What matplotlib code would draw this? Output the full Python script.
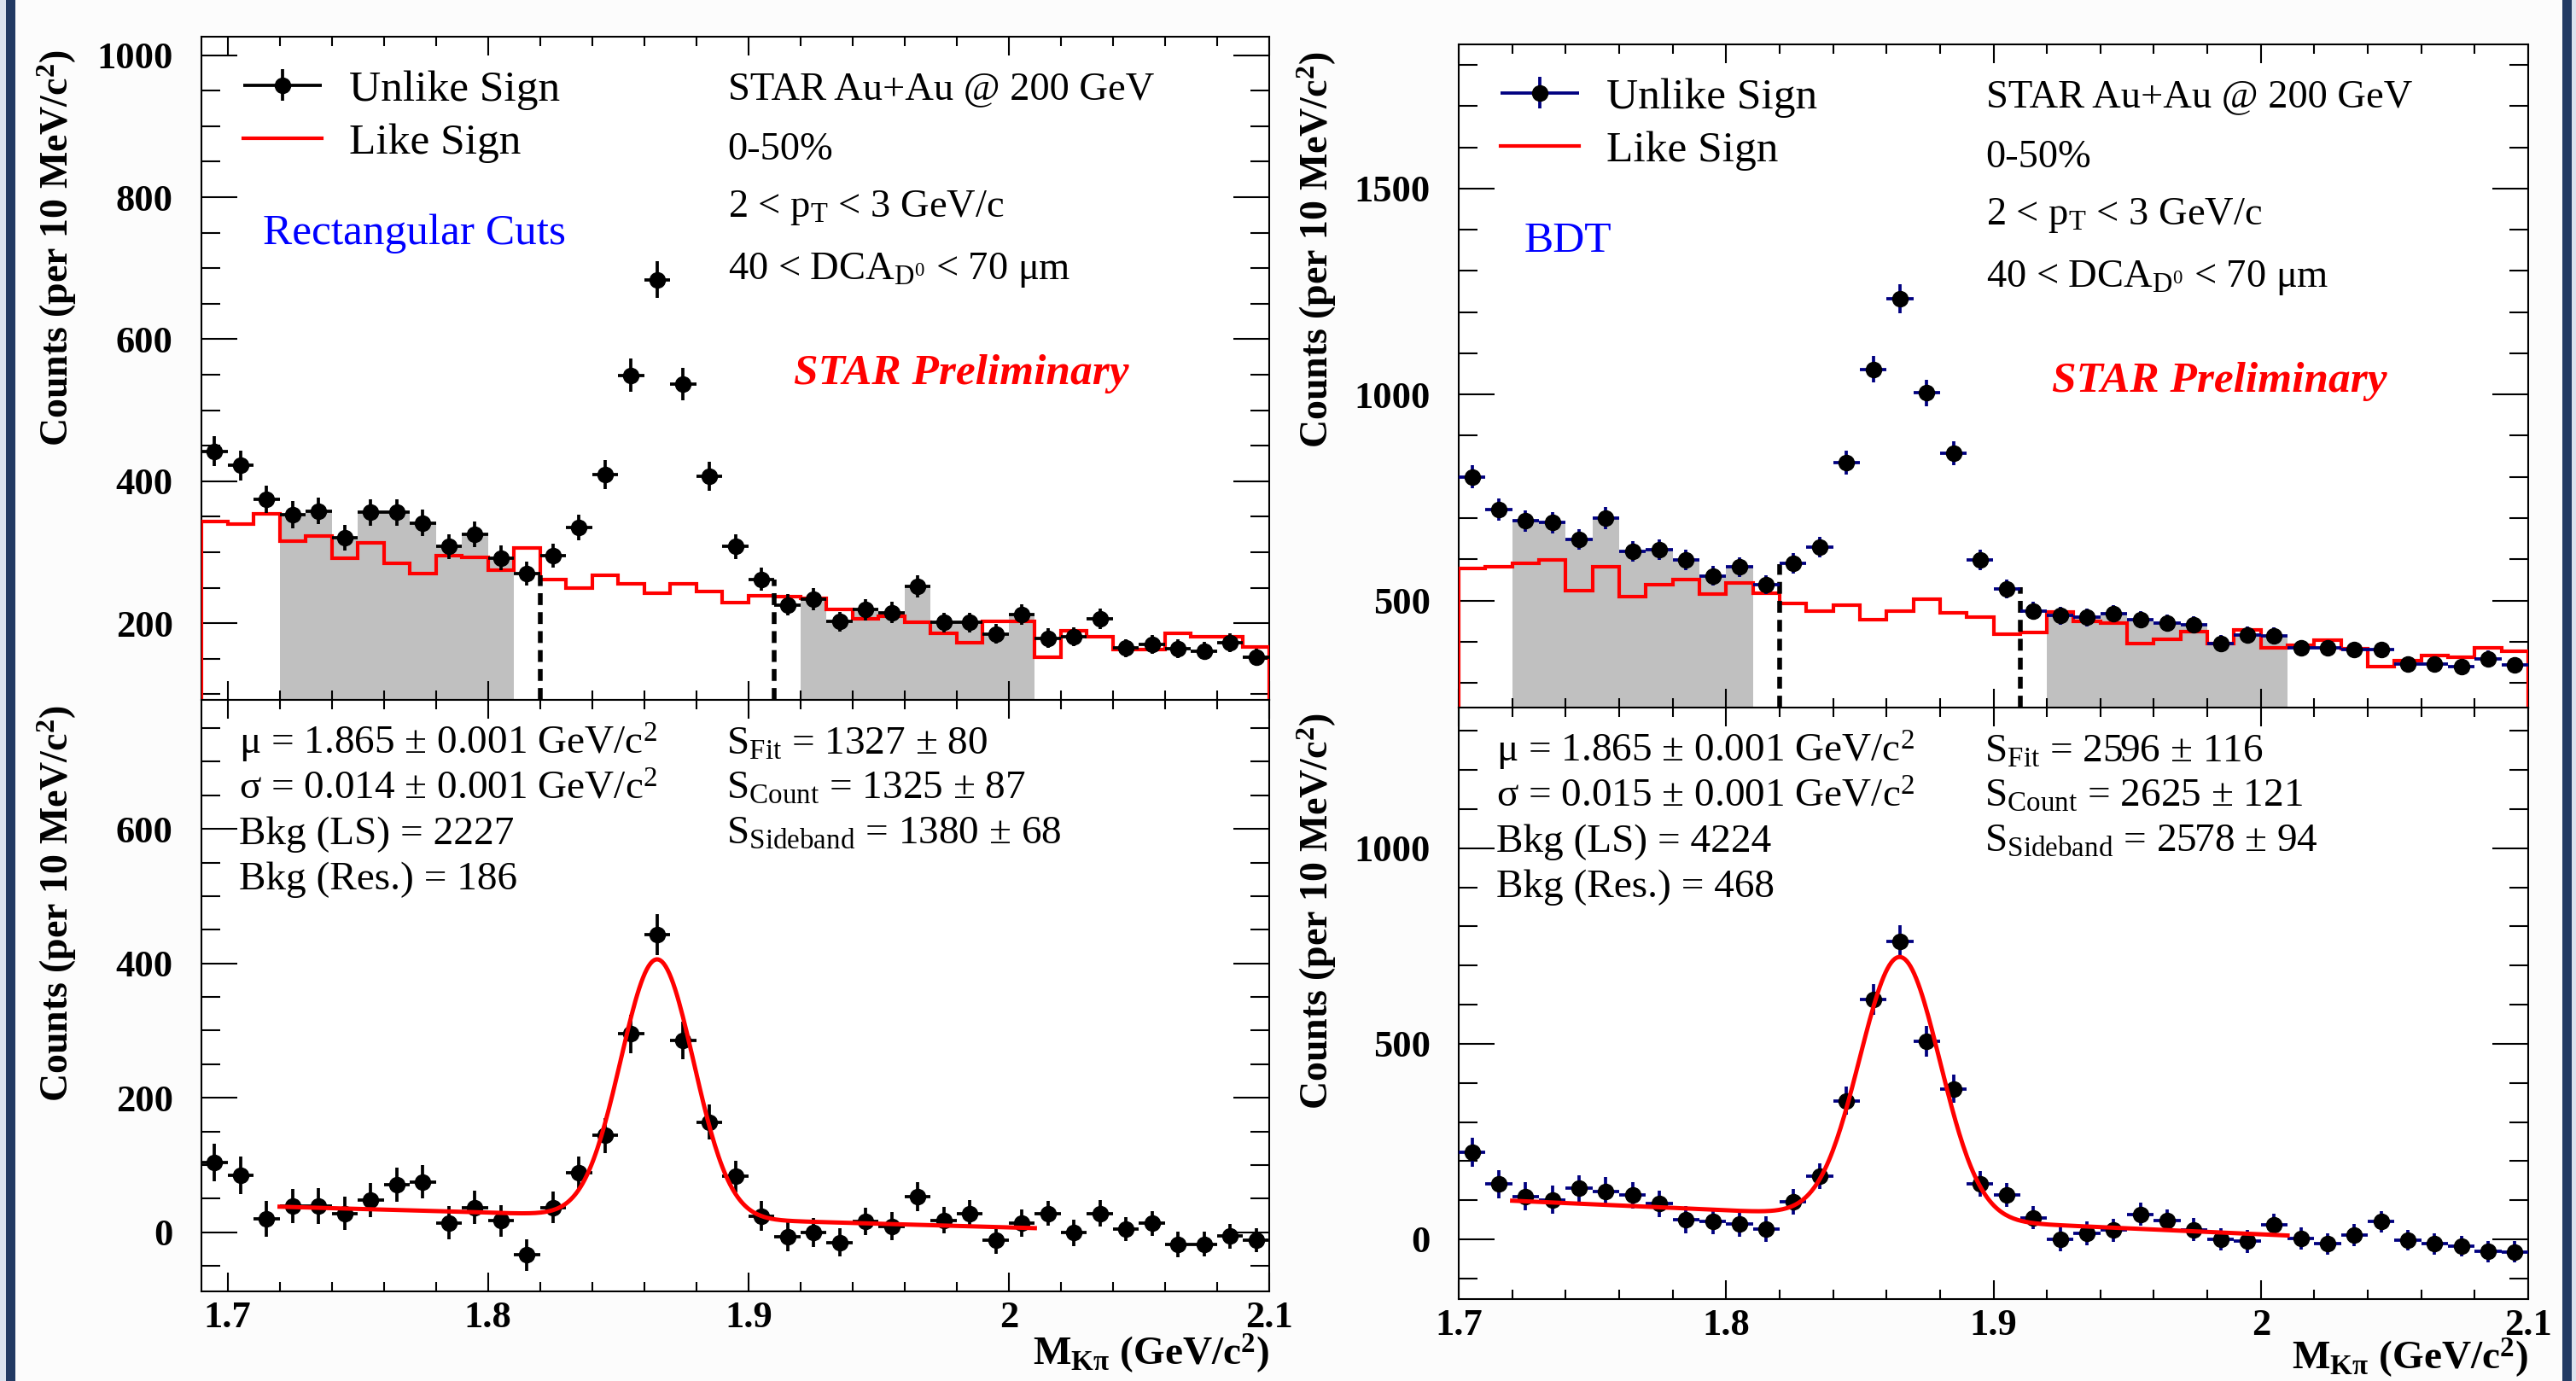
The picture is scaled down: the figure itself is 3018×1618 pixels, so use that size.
import numpy as np
import matplotlib
matplotlib.use("Agg")
import matplotlib.pyplot as plt
from matplotlib import ticker
from matplotlib.container import ErrorbarContainer
from matplotlib.legend_handler import HandlerErrorbar
from matplotlib.patches import Rectangle

plt.rcParams['font.family'] = 'Liberation Serif'
plt.rcParams['mathtext.fontset'] = 'custom'
plt.rcParams['mathtext.rm'] = 'Liberation Serif'
plt.rcParams['mathtext.it'] = 'Liberation Serif:italic'
plt.rcParams['mathtext.bf'] = 'Liberation Serif:bold'

BIN = 0.01
RECT_EDGES = np.round(np.arange(1.69, 2.1001, BIN), 3)
BDT_EDGES = np.round(np.arange(1.70, 2.1001, BIN), 3)

# rectangular cuts (left), bins 1.69 .. 2.10
rect_unlike = [442, 422, 374, 353, 358, 320, 356, 356, 341, 308, 325, 292, 270, 295,
               335, 409, 549, 684, 537, 407, 308, 262, 226, 234, 202, 219, 215, 252,
               201, 201, 185, 212, 179, 181, 206, 165, 170, 164, 161, 173, 152]
rect_like = [343, 340, 354, 315, 323, 292, 313, 284, 270, 295, 293, 275, 306, 262,
             249, 267, 255, 242, 255, 245, 229, 239, 237, 235, 219, 206, 210, 201,
             186, 172, 202, 202, 152, 189, 181, 163, 163, 186, 181, 181, 167]
rect_sub = [104, 85, 20, 39, 39, 28, 48, 71, 75, 14, 37, 17, -34, 37, 88, 144, 295,
            443, 285, 164, 83, 24, -7, 0, -15, 16, 9, 53, 18, 28, -12, 14, 28, -1,
            28, 5, 13, -18, -18, -6, -12]

# BDT (right), bins 1.70 .. 2.10
bdt_unlike = [800, 721, 693, 689, 648, 700, 620, 624, 598, 560, 581, 538, 590, 629,
              834, 1061, 1232, 1004, 857, 598, 528, 475, 463, 459, 468, 453, 445,
              441, 396, 417, 414, 385, 385, 381, 380, 346, 346, 339, 359, 343]
bdt_like = [577, 582, 590, 599, 523, 582, 510, 539, 551, 515, 543, 517, 493, 475,
            489, 453, 475, 503, 470, 459, 419, 423, 472, 450, 446, 396, 406, 424,
            396, 429, 385, 392, 403, 383, 339, 353, 367, 363, 385, 376]
bdt_sub = [223, 141, 110, 101, 130, 123, 113, 91, 50, 45, 40, 26, 95, 161, 354, 613,
           761, 506, 385, 141, 113, 55, -1, 15, 23, 64, 48, 24, -1, -5, 37, 2, -12,
           11, 45, -3, -12, -18, -31, -32]

# fit: gaussian + linear background (value at 1.72, slope per GeV)
FIT_RANGE = (1.72, 2.01)
rect_fit = dict(mu=1.865, sigma=0.014, amp=384, bkg0=38, slope=-110)
bdt_fit = dict(mu=1.865, sigma=0.015, amp=668, bkg0=98.6, slope=-307)

SIDEBANDS = [(1.72, 1.81), (1.92, 2.01)]
DASH_X = [1.82, 1.91]
rect_dash_top = [267, 261]
bdt_dash_top = [588, 532]

X_TICKS = [1.7, 1.8, 1.9, 2.0, 2.1]
X_TICK_LABELS = ['1.7', '1.8', '1.9', '2', '2.1']

info_lines = ['STAR Au+Au @ 200 GeV', '0-50%', '2 < p$_\\mathrm{T}$ < 3 GeV/c',
              '40 < DCA$_{\\mathrm{D}^{\\mathrm{0}}}$ < 70 μm']
rect_stats_left = ['μ = 1.865 ± 0.001 GeV/c$^\\mathrm{2}$',
                   'σ = 0.014 ± 0.001 GeV/c$^\\mathrm{2}$',
                   'Bkg (LS) = 2227', 'Bkg (Res.) = 186']
rect_stats_right = ['S$_\\mathrm{Fit}$ = 1327 ± 80', 'S$_\\mathrm{Count}$ = 1325 ± 87',
                    'S$_\\mathrm{Sideband}$ = 1380 ± 68']
bdt_stats_left = ['μ = 1.865 ± 0.001 GeV/c$^\\mathrm{2}$',
                  'σ = 0.015 ± 0.001 GeV/c$^\\mathrm{2}$',
                  'Bkg (LS) = 4224', 'Bkg (Res.) = 468']
bdt_stats_right = ['S$_\\mathrm{Fit}$ = 2596 ± 116', 'S$_\\mathrm{Count}$ = 2625 ± 121',
                   'S$_\\mathrm{Sideband}$ = 2578 ± 94']

RED = '#ff0000'
GRAY = '#c0c0c0'
YLABEL = 'Counts (per 10 MeV/c$^\\mathbf{2}$)'
XLABEL = 'M$_\\mathbf{Kπ}$ (GeV/c$^\\mathbf{2}$)'


def style_axes(ax, xlim, ylim, ymajor, yminor, xlabels):
    ax.set_xlim(*xlim)
    ax.set_ylim(*ylim)
    ax.set_xticks(X_TICKS)
    ax.set_xticklabels(X_TICK_LABELS, fontweight='bold', fontsize=32)
    ax.xaxis.set_minor_locator(ticker.MultipleLocator(0.02))
    yt = [v for v in np.arange(0, ylim[1], ymajor) if v >= ylim[0]]
    ax.set_yticks(yt)
    ax.set_yticklabels([str(int(v)) for v in yt], fontweight='bold', fontsize=32)
    ax.yaxis.set_minor_locator(ticker.MultipleLocator(yminor))
    ax.tick_params(which='both', direction='in', top=True, right=True, width=1.5)
    ax.tick_params(axis='y', which='major', length=30, pad=24)
    ax.tick_params(axis='y', which='minor', length=16)
    ax.tick_params(axis='x', which='major', length=16, pad=8)
    ax.tick_params(axis='x', which='minor', length=8)
    if not xlabels:
        ax.tick_params(axis='x', labelbottom=False)
    for s in ax.spines.values():
        s.set_linewidth(1.5)


def top_panel(ax, edges, unlike, like, dash_top, ylim, ymajor, yminor, ecol, tag, tagx):
    edges = np.asarray(edges)
    centers = edges[:-1] + BIN / 2
    unlike = np.asarray(unlike, float)
    style_axes(ax, (edges[0], edges[-1]), ylim, ymajor, yminor, False)
    for lo, hi in SIDEBANDS:
        m = (centers > lo) & (centers < hi)
        ax.bar(centers[m], unlike[m], width=BIN, color=GRAY, linewidth=0, zorder=1)
    st = ax.stairs(like, edges, color=RED, linewidth=3, zorder=3)
    ax.vlines(DASH_X, ylim[0], dash_top, colors='black', linewidth=4,
              linestyles=(0, (2.5, 1.5)), zorder=4)
    eb = ax.errorbar(centers, unlike, xerr=BIN / 2, yerr=np.sqrt(unlike), fmt='o',
                     color='black', ecolor=ecol, ms=13, elinewidth=2.7, capsize=0, zorder=5)
    ax.legend([eb, st], ['Unlike Sign', 'Like Sign'], loc='upper left',
              bbox_to_anchor=(0.039, 0.950), frameon=False, fontsize=37,
              handlelength=1.8, handletextpad=0.62, labelspacing=0.3, borderpad=0,
              borderaxespad=0,
              handler_map={ErrorbarContainer: HandlerErrorbar(xerr_size=0.9, yerr_size=0.36)})
    for i, t in enumerate(info_lines):
        ax.text(0.493, [0.906, 0.815, 0.729, 0.635][i], t, transform=ax.transAxes,
                fontsize=33.5, ha='left', va='baseline')
    ax.text(tagx, 0.687, tag, transform=ax.transAxes, fontsize=37, color='#0000ff',
            ha='left', va='baseline')
    ax.text(0.5548, 0.476, 'STAR Preliminary', transform=ax.transAxes, fontsize=37,
            color=RED, fontweight='bold', fontstyle='italic', ha='left', va='baseline')


def bottom_panel(ax, edges, sub, unlike, like, fit, ylim, ymajor, yminor, ecol,
                 stats_l, stats_r, xlab_y):
    edges = np.asarray(edges)
    centers = edges[:-1] + BIN / 2
    err = np.sqrt(np.asarray(unlike, float) + np.asarray(like, float))
    style_axes(ax, (edges[0], edges[-1]), ylim, ymajor, yminor, True)
    ax.errorbar(centers, sub, xerr=BIN / 2, yerr=err, fmt='o', color='black',
                ecolor=ecol, ms=13, elinewidth=2.7, capsize=0, zorder=4)
    xf = np.linspace(FIT_RANGE[0], FIT_RANGE[1], 400)
    yf = (fit['bkg0'] + fit['slope'] * (xf - FIT_RANGE[0])
          + fit['amp'] * np.exp(-0.5 * ((xf - fit['mu']) / fit['sigma']) ** 2))
    ax.plot(xf, yf, color=RED, linewidth=3.6, zorder=5)
    ys = [0.908, 0.833, 0.756, 0.680]
    for y, t in zip(ys, stats_l):
        ax.text(0.035, y, t, transform=ax.transAxes, fontsize=34, ha='left', va='baseline')
    for y, t in zip(ys, stats_r):
        ax.text(0.492, y, t, transform=ax.transAxes, fontsize=34, ha='left', va='baseline')
    ax.text(1.0, xlab_y, XLABEL, transform=ax.transAxes, fontsize=34,
            fontweight='bold', ha='right', va='baseline')


W, H = 3018, 1618
fig = plt.figure(figsize=(W / 100, H / 100), dpi=100, facecolor='#fcfcfc')


def box(x0, x1, ytop, ybot):
    return [x0 / W, 1 - ybot / H, (x1 - x0) / W, (ybot - ytop) / H]


ax_lt = fig.add_axes(box(236, 1487, 43, 820))
ax_lb = fig.add_axes(box(236, 1487, 820, 1513))
ax_rt = fig.add_axes(box(1709, 2962, 52, 829))
ax_rb = fig.add_axes(box(1709, 2962, 829, 1522))

top_panel(ax_lt, RECT_EDGES, rect_unlike, rect_like, rect_dash_top, (92, 1026), 200, 50,
          'black', 'Rectangular Cuts', 0.0576)
bottom_panel(ax_lb, RECT_EDGES, rect_sub, rect_unlike, rect_like, rect_fit, (-88, 792),
             200, 50, 'black', rect_stats_left, rect_stats_right, -0.124)
top_panel(ax_rt, BDT_EDGES, bdt_unlike, bdt_like, bdt_dash_top, (240, 1850), 500, 100,
          '#000080', 'BDT', 0.0615)
bottom_panel(ax_rb, BDT_EDGES, bdt_sub, bdt_unlike, bdt_like, bdt_fit, (-153, 1360),
             500, 100, '#000080', bdt_stats_left, bdt_stats_right, -0.118)

for x, ytop in [(67, 58), (67, 826), (1543, 60), (1543, 835)]:
    fig.text(x / W, 1 - ytop / H, YLABEL, rotation=90, fontsize=33, fontweight='bold',
             ha='center', va='top')

# slide border stripes
for x0, x1, c in [(0, 7, '#dbe3ef'), (7, 18, '#223a63'),
                  (3002, 3013, '#223a63'), (3013, 3018, '#dbe3ef')]:
    fig.add_artist(Rectangle((x0 / W, 0), (x1 - x0) / W, 1, transform=fig.transFigure,
                             color=c, linewidth=0))

fig.savefig('out.png', dpi=100, facecolor=fig.get_facecolor())
